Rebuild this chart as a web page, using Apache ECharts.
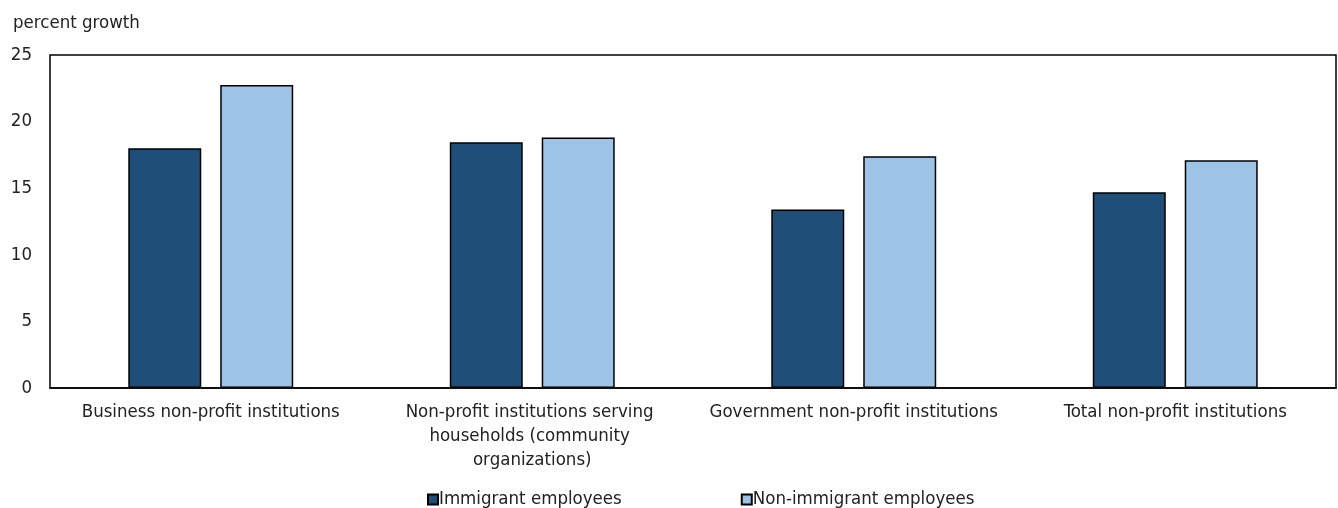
<!DOCTYPE html>
<html>
<head>
<meta charset="utf-8">
<script src="https://cdn.jsdelivr.net/npm/echarts@6/dist/echarts.min.js"></script>
<style>
  html, body { margin: 0; padding: 0; background: #fff; }
  #chart { width: 1338px; height: 508px; }
</style>
</head>
<body>
<div id="chart"></div>
<script>
// Employment growth in non-profit institutions, by immigrant status
const categories = [
  'Business non-profit institutions',
  'Non-profit institutions serving households (community organizations)',
  'Government non-profit institutions',
  'Total non-profit institutions'
];
const immigrant = [18.0, 18.45, 13.4, 14.7];
const nonImmigrant = [22.75, 18.8, 17.4, 17.1];
const seriesNames = ['Immigrant employees', 'Non-immigrant employees'];
const yTicks = [0, 5, 10, 15, 20, 25];

const FONT = '"Liberation Sans Narrow", "DejaVu Sans Condensed", "Roboto", sans-serif';
const TEXT = '#222';
const FS = 18.5;

const chart = echarts.init(document.getElementById('chart'));
chart.setOption({
  animation: false,
  textStyle: { fontFamily: FONT, color: TEXT },
  grid: { left: 50, right: 2, top: 55, bottom: 120, containLabel: false,
          show: true, borderColor: '#000', borderWidth: 1.5 },
  title: {
    text: 'percent growth', left: 8, top: 9,
    textStyle: { fontFamily: FONT, fontSize: FS, fontWeight: 'normal', color: TEXT }
  },
  legend: {
    top: 485, left: 422, itemGap: 119,
    itemWidth: 10, itemHeight: 10, icon: 'rect',
    textStyle: { fontFamily: FONT, fontSize: FS, color: TEXT, padding: [0, 0, 0, -4] },
    data: seriesNames
  },
  xAxis: {
    type: 'category', data: categories,
    axisLine: { lineStyle: { color: '#000', width: 1.5 } },
    axisTick: { show: false },
    axisLabel: {
      fontFamily: FONT, fontSize: FS, color: TEXT, margin: 12, lineHeight: 24,
      width: 300, overflow: 'break', interval: 0
    }
  },
  yAxis: {
    type: 'value', min: yTicks[0], max: yTicks[yTicks.length - 1], interval: 5,
    axisLine: { show: false }, axisTick: { show: false },
    splitLine: { show: false },
    axisLabel: { fontFamily: FONT, fontSize: FS, color: TEXT, margin: 18 }
  },
  series: [
    {
      name: seriesNames[0], type: 'bar', data: immigrant,
      barWidth: '22.7%', barGap: '26%',
      itemStyle: { color: '#1f4e79', borderColor: '#000', borderWidth: 1.5 }
    },
    {
      name: seriesNames[1], type: 'bar', data: nonImmigrant,
      barWidth: '22.7%', barGap: '26%',
      itemStyle: { color: '#9dc3e6', borderColor: '#000', borderWidth: 1.5 }
    }
  ]
});
</script>
</body>
</html>
